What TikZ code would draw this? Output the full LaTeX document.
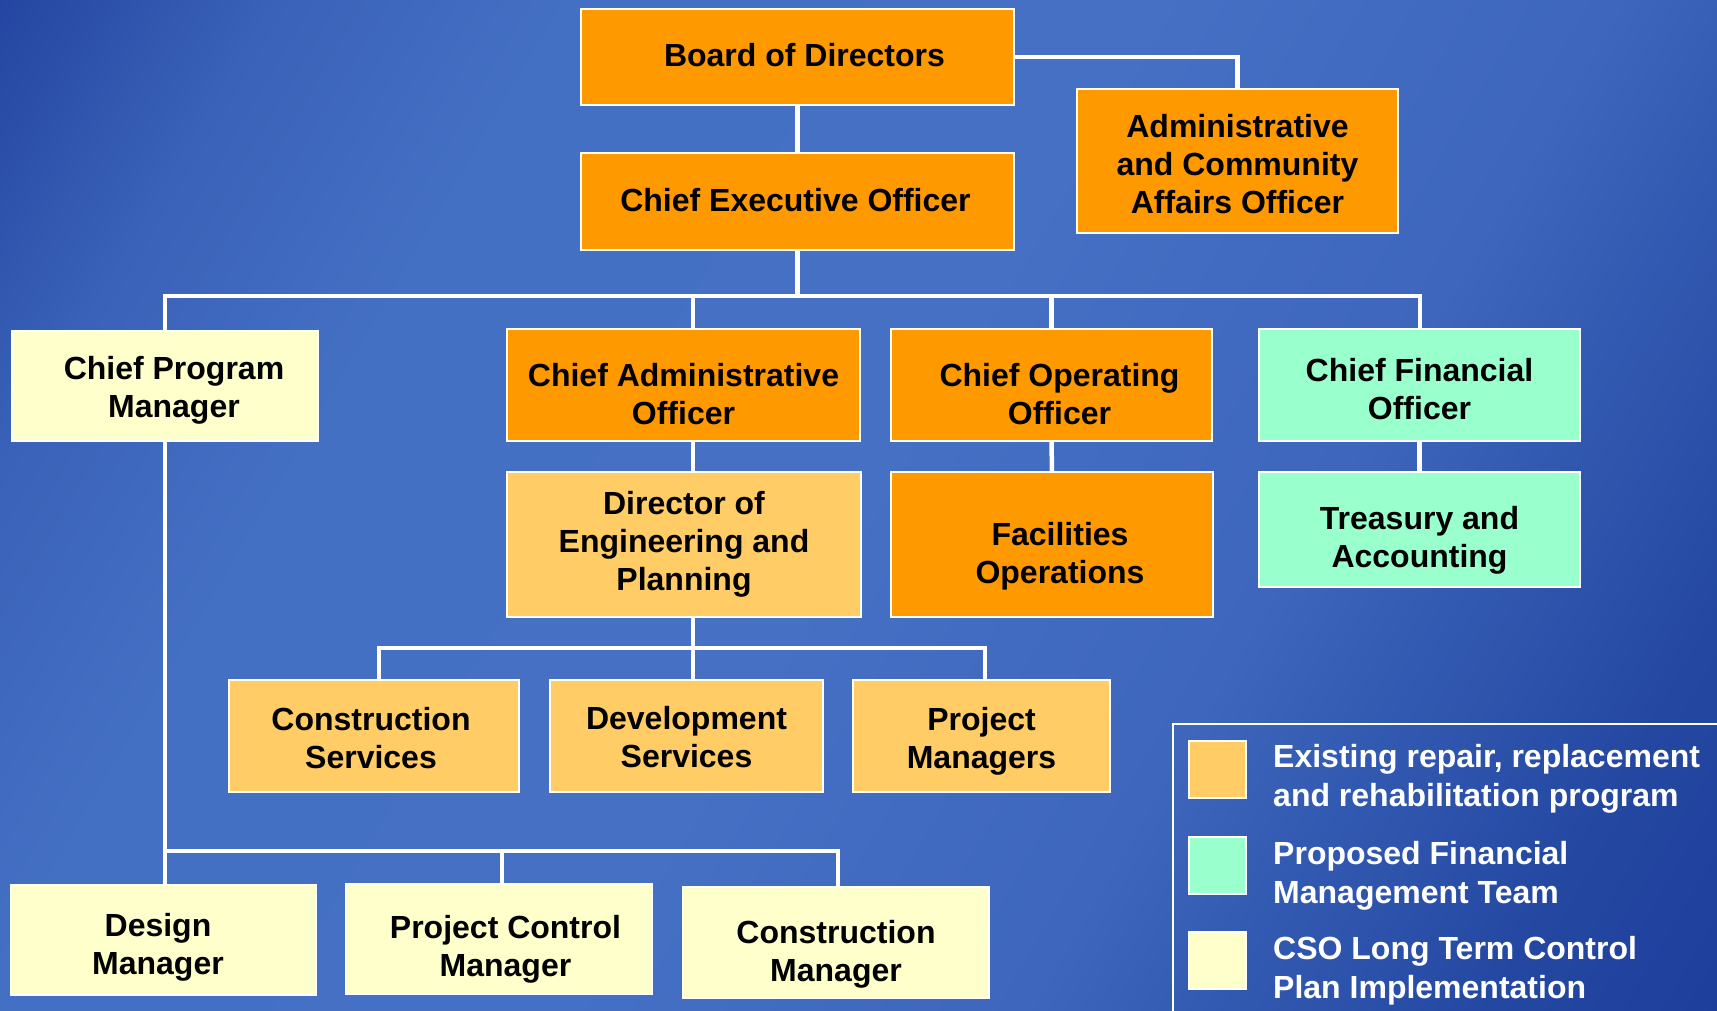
\documentclass[tikz,border=0pt]{standalone}
\usepackage{fontspec}
\setmainfont{Liberation Sans}
\usetikzlibrary{calc}
\definecolor{orgA}{HTML}{FF9900}
\definecolor{orgB}{HTML}{FFCC66}
\definecolor{mint}{HTML}{99FFCC}
\definecolor{cream}{HTML}{FFFFCC}
\definecolor{bgA}{HTML}{2446A2}
\definecolor{bgB}{HTML}{3A62B8}
\definecolor{bgC}{HTML}{4470C4}
\definecolor{bgD}{HTML}{4570C4}
\definecolor{bgE}{HTML}{3D66BC}
\definecolor{bgF}{HTML}{2448A2}
\definecolor{bgG}{HTML}{1E3E9C}
\pgfdeclarehorizontalshading{bgshade}{100bp}{color(0bp)=(bgA); color(25bp)=(bgA); color(31bp)=(bgB); color(37.5bp)=(bgC); color(50bp)=(bgD); color(60bp)=(bgE); color(70bp)=(bgF); color(75bp)=(bgG); color(100bp)=(bgG)}
\tikzset{
  box/.style={draw=white, line width=1.5pt, inner sep=0pt},
  boxtext/.style={align=center, inner sep=0pt, text=black,
    font=\bfseries\fontsize{32}{38}\selectfont},
  conn/.style={draw=white, line width=4.5pt},
  swatch/.style={draw=white, line width=2pt, minimum width=57pt, minimum height=57pt, inner sep=0pt},
  legtext/.style={anchor=west, align=left, text=white, inner sep=0pt,
    font=\bfseries\fontsize{32}{39}\selectfont}
}
\begin{document}
\begin{tikzpicture}[x=1pt,y=-1pt]
\useasboundingbox (0,0) rectangle (1717,1011);
\begin{scope}
\clip (0,0) rectangle (1717,1011);
\begin{scope}[transform canvas={shift={(858.5,505.5)}, rotate=-30.49}]
\shade[shading=bgshade] (-997,-880) rectangle (997,880);
\end{scope}
\end{scope}

% nodes
\node[box, fill=orgA, minimum width=433pt, minimum height=96pt,
  label={[boxtext, shift={(7,-2)}]center:Board of Directors}] (board) at (797.5,57) {};
\node[box, fill=orgA, minimum width=433pt, minimum height=97pt,
  label={[boxtext, shift={(-2,-1)}]center:Chief Executive Officer}] (ceo) at (797.5,201.5) {};
\node[box, fill=orgA, minimum width=321pt, minimum height=144pt,
  label={[boxtext, shift={(0,3.5)}]center:Administrative\\and Community\\Affairs Officer}] (admin) at (1237.5,161) {};
\node[box, fill=cream, minimum width=306pt, minimum height=110pt,
  label={[boxtext, shift={(9,4.5)}]center:Chief Program\\Manager}] (cpm) at (165,386) {};
\node[box, fill=orgA, minimum width=353pt, minimum height=112pt,
  label={[boxtext, shift={(0,9)}]center:Chief Administrative\\Officer}] (cao) at (683.5,385) {};
\node[box, fill=orgA, minimum width=321pt, minimum height=112pt,
  label={[boxtext, shift={(8,9)}]center:Chief Operating\\Officer}] (coo) at (1051.5,385) {};
\node[box, fill=mint, minimum width=321pt, minimum height=112pt,
  label={[boxtext, shift={(0,4.5)}]center:Chief Financial\\Officer}] (cfo) at (1419.5,385) {};
\node[box, fill=orgB, minimum width=354pt, minimum height=145pt,
  label={[boxtext]center:Director of\\Engineering and\\Planning}] (dir) at (684,544.5) {};
\node[box, fill=orgA, minimum width=322pt, minimum height=145pt,
  label={[boxtext, shift={(8,12)}]center:Facilities\\Operations}] (fac) at (1052,544.5) {};
\node[box, fill=mint, minimum width=321pt, minimum height=115pt,
  label={[boxtext, shift={(0,11)}]center:Treasury and\\Accounting}] (tre) at (1419.5,529.5) {};
\node[box, fill=orgB, minimum width=290pt, minimum height=112pt,
  label={[boxtext, shift={(-3,2)}]center:Construction\\Services}] (cs) at (374,736) {};
\node[box, fill=orgB, minimum width=273pt, minimum height=112pt,
  label={[boxtext, shift={(0,1)}]center:Development\\Services}] (ds) at (686.5,736) {};
\node[box, fill=orgB, minimum width=257pt, minimum height=112pt,
  label={[boxtext, shift={(0,5)}]center:Project\\Managers}] (pm) at (981.5,736) {};
\node[box, fill=cream, minimum width=305pt, minimum height=110pt,
  label={[boxtext, shift={(-5.5,7)}]center:Design\\Manager}] (dm) at (163.5,940) {};
\node[box, fill=cream, minimum width=306pt, minimum height=110pt,
  label={[boxtext, shift={(6.5,10)}]center:Project Control\\Manager}] (pcm) at (499,939) {};
\node[box, fill=cream, minimum width=306pt, minimum height=111pt,
  label={[boxtext, shift={(0,11.5)}]center:Construction\\Manager}] (cm) at (836,942.5) {};

% junction coordinates
\coordinate (jcao) at (693,296);
\coordinate (jcfo) at (1420,296);
\coordinate (jcs) at (379,648);
\coordinate (jpm) at (985,648);
\coordinate (jcm) at (838,851);
\coordinate (jpcm) at (502,851);

% connectors
\draw[conn] (board.east) -| (admin.north);
\draw[conn] (board.south) -- (ceo.north);
\draw[conn] (ceo.south) -- (ceo.south |- jcao);
\draw[conn] (cpm.north) |- (jcfo) -- (jcfo |- cfo.north);
\draw[conn] (jcao) -- (jcao |- cao.north);
\draw[conn] (coo.north |- jcao) -- (coo.north);
\draw[conn] (jcao |- cao.south) -- (jcao |- dir.north);
\draw[conn] (coo.south) -- (fac.north);
\draw[conn] (cfo.south) -- (tre.north);
\draw[conn] (jcao |- dir.south) -- (jcao |- ds.north);
\draw[conn] (jcs |- cs.north) |- (jpm) -- (jpm |- pm.north);
\draw[conn] (cpm.south) -- (cpm.south |- dm.north);
\draw[conn] (cpm.south |- jcm) -| (jcm |- cm.north);
\draw[conn] (jpcm) -- (jpcm |- pcm.north);

% legend
\draw[white, line width=2pt] (1173,724) rectangle (1740,1040);
\node[swatch, fill=orgB] (sw1) at (1217.5,769.5) {};
\node[swatch, fill=mint] (sw2) at (1217.5,865.5) {};
\node[swatch, fill=cream] (sw3) at (1217.5,960.5) {};
\node[legtext] (lt1) at (1273,778.5) {Existing repair, replacement\\and rehabilitation program};
\node[legtext] (lt2) at (1273,875.5) {Proposed Financial\\Management Team};
\node[legtext] (lt3) at (1273,970.5) {CSO Long Term Control\\Plan Implementation};
\end{tikzpicture}
\end{document}
